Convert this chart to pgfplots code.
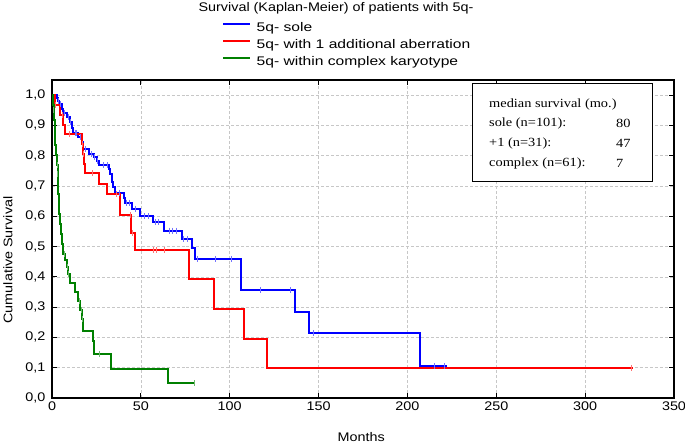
\documentclass[border=0pt]{standalone}
\usepackage{pgfplots}
\pgfplotsset{compat=1.18}
\usepackage{fontspec}
\setmainfont{Liberation Sans}[FakeStretch=1.15]
\newfontfamily\legfont{Liberation Sans}[FakeStretch=1.25]
\newfontfamily\boxfont{Liberation Serif}[FakeStretch=1.15]
\newcommand\chartfont{\fontsize{12.5bp}{15bp}\selectfont}

\definecolor{kmblue}{RGB}{0,0,255}
\definecolor{kmred}{RGB}{255,0,0}
\definecolor{kmgreen}{RGB}{0,128,0}

\begin{document}
\begin{tikzpicture}
\useasboundingbox (-52bp,-47bp) rectangle (633bp,398bp);
\begin{axis}[
    at={(0,0)}, anchor=south west,
    scale only axis, width=622bp, height=318bp,
    xmin=0, xmax=350, ymin=0, ymax=1.05,
    xtick={0,50,100,150,200,250,300,350},
    ytick={0,0.1,0.2,0.3,0.4,0.5,0.6,0.7,0.8,0.9,1.0},
    yticklabels={{0,0},{0,1},{0,2},{0,3},{0,4},{0,5},{0,6},{0,7},{0,8},{0,9},{1,0}},
    /pgf/number format/assume math mode=true,
    tick align=inside, major tick length=5bp,
    tick style={black, line width=1bp},
    axis line style={black, line width=1.8bp},
    grid=major,
    major grid style={densely dashed, black!22, line width=0.6bp},
    ticklabel style={font=\chartfont},
    yticklabel style={xshift=-3bp},
    label style={font=\chartfont},
    title style={font=\chartfont, at={(axis description cs:0.4566,1)}, anchor=center, yshift=66bp},
    title={Survival (Kaplan-Meier) of patients with 5q-},
    xlabel={Months},
    xlabel style={at={(axis description cs:0.497,0)}, anchor=center, yshift=-39bp},
    ylabel={Cumulative Survival},
    ylabel style={at={(axis description cs:-0.0707,0.434)}, anchor=center},
    legend cell align=left,
    legend style={at={(axis description cs:0.2749,1.1918)}, anchor=north west,
        draw=none, fill=none, inner sep=0pt, row sep=2.5bp,
        font=\legfont\chartfont,
        nodes={inner sep=0pt, text height=9bp, text depth=2.5bp}},
    legend image code/.code={
        \path[draw=none, fill=none] (0bp,-2.5bp) rectangle (33bp,9bp);
        \draw[#1, line width=2bp, line cap=rect] (0.5bp,4.4bp) -- (25.5bp,4.4bp);
    },
    every axis plot/.append style={line width=2bp},
]
% 5q- sole
\addplot[kmblue, const plot] table {
t S
0 1.0
2.6 0.99
3.3 0.98
4.0 0.97
5.5 0.955
6.4 0.94
8.3 0.928
10.2 0.91
11.1 0.89
12.0 0.875
14.9 0.863
16.8 0.846
17.7 0.822
20.6 0.805
23.4 0.795
25.2 0.783
26.2 0.77
31.8 0.755
32.8 0.74
33.7 0.714
34.6 0.696
35.6 0.678
40.3 0.66
41.0 0.645
45.0 0.625
49.7 0.60
56.7 0.58
62.9 0.553
72.9 0.525
78.9 0.496
80.2 0.459
106.4 0.357
136.8 0.284
144.8 0.215
207.2 0.106
222.0 0.106
};
\addlegendentry{5q- sole}
% 5q- with 1 additional aberration
\addplot[kmred, const plot] table {
t S
0 1.0
1.5 0.968
4.5 0.935
6.4 0.903
7.3 0.871
16.8 0.839
17.4 0.806
18.0 0.774
18.5 0.742
26.7 0.705
30.9 0.672
38.2 0.605
44.6 0.545
46.9 0.49
77.0 0.392
91.3 0.294
108.0 0.196
120.9 0.098
327.0 0.098
};
\addlegendentry{5q- with 1 additional aberration}
% 5q- within complex karyotype
\addplot[kmgreen, const plot] table {
t S
0 1.0
0.3 0.984
0.6 0.967
0.9 0.951
1.2 0.918
1.5 0.885
1.8 0.836
2.1 0.803
2.6 0.77
3.2 0.738
3.5 0.705
3.6 0.672
3.8 0.639
4.2 0.607
4.5 0.574
5.0 0.541
5.5 0.508
6.4 0.475
7.3 0.456
8.3 0.434
9.2 0.41
10.2 0.38
13.0 0.35
14.9 0.32
16.0 0.29
16.8 0.26
17.4 0.22
22.9 0.187
23.8 0.146
33.0 0.097
65.4 0.049
80.5 0.049
};
\addlegendentry{5q- within complex karyotype}
% censored observations
\addplot[only marks, mark=|, mark size=3bp, kmblue!55, line width=0.8bp, forget plot] table {
t S
3.6 0.98
5.0 0.97
7.0 0.94
9.0 0.928
10.6 0.91
13.0 0.875
14.0 0.875
16.0 0.863
19.0 0.822
22.0 0.805
24.0 0.795
25.8 0.783
29.0 0.77
31.0 0.77
38.0 0.678
42.0 0.645
43.5 0.645
47.0 0.625
52.0 0.60
54.0 0.60
58.0 0.58
60.0 0.58
66.0 0.553
68.0 0.553
70.0 0.553
74.0 0.525
76.0 0.525
81.7 0.459
92.0 0.459
101.0 0.459
117.0 0.357
134.0 0.357
147.0 0.215
215.0 0.106
221.0 0.106
};
\addplot[only marks, mark=|, mark size=3bp, kmred!55, line width=0.8bp, forget plot] table {
t S
2.0 0.968
6.0 0.935
10.0 0.871
17.0 0.839
17.8 0.806
23.0 0.742
36.0 0.672
44.0 0.605
45.5 0.545
57.0 0.49
58.5 0.49
63.0 0.49
326.0 0.098
};
\addplot[only marks, mark=|, mark size=3bp, kmgreen!55, line width=0.8bp, forget plot] table {
t S
1.0 0.951
3.0 0.77
3.3 0.738
7.0 0.475
8.8 0.434
9.5 0.41
15.5 0.32
16.5 0.29
17.0 0.26
26.7 0.146
80.0 0.049
};
\end{axis}
% inset with median survival
\draw[black, line width=1bp, fill=white] (420bp,216bp) rectangle (600bp,314bp);
\begin{scope}[every node/.style={font=\boxfont\chartfont, anchor=west, inner sep=0pt}]
\node at (437bp,294bp) {median survival (mo.)};
\node at (437bp,275bp) {sole (n=101):};
\node at (437bp,255bp) {+1 (n=31):};
\node at (437bp,235bp) {complex (n=61):};
\node at (564bp,275bp) {80};
\node at (564bp,255bp) {47};
\node at (564bp,235bp) {7};
\end{scope}
\end{tikzpicture}
\end{document}
